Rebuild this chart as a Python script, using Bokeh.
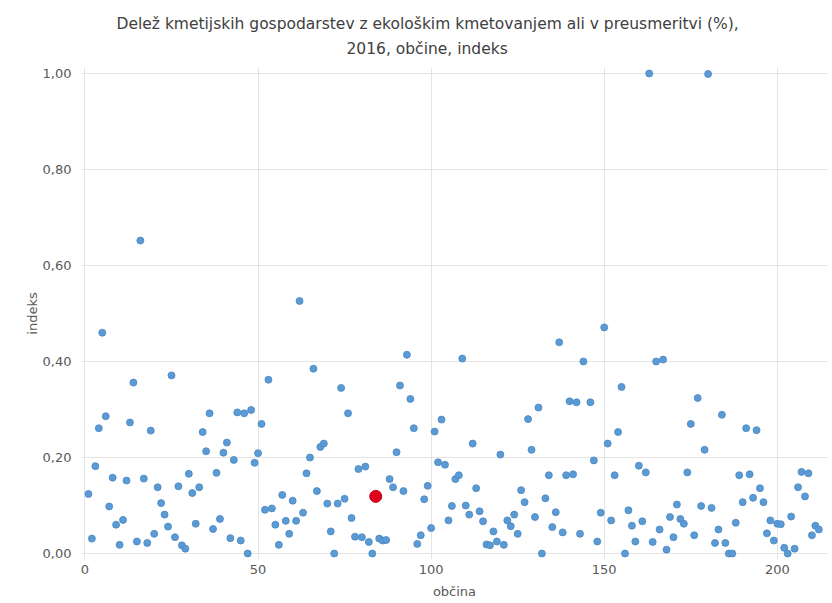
import numpy as np
from bokeh.plotting import figure
from bokeh.models import Range1d, FixedTicker, Title, CustomJSTickFormatter
from bokeh.embed import file_html
from bokeh.resources import INLINE

# ---- data (index per municipality) ----
indeks = [
    0.124, 0.031, 0.182, 0.261, 0.460, 0.286, 0.098, 0.158, 0.060, 0.018,   # 1-10
    0.070, 0.152, 0.273, 0.356, 0.025, 0.652, 0.156, 0.022, 0.256, 0.041,   # 11-20
    0.138, 0.105, 0.081, 0.056, 0.371, 0.034, 0.140, 0.017, 0.010, 0.166,   # 21-30
    0.126, 0.062, 0.138, 0.253, 0.213, 0.292, 0.051, 0.168, 0.072, 0.210,   # 31-40
    0.231, 0.032, 0.195, 0.294, 0.027, 0.292, 0.000, 0.299, 0.189, 0.209,   # 41-50
    0.270, 0.091, 0.362, 0.094, 0.060, 0.018, 0.122, 0.068, 0.041, 0.110,   # 51-60
    0.068, 0.526, 0.085, 0.167, 0.200, 0.385, 0.130, 0.222, 0.229, 0.104,   # 61-70
    0.046, 0.000, 0.104, 0.345, 0.114, 0.292, 0.074, 0.035, 0.176, 0.034,   # 71-80
    0.181, 0.024, 0.000, 0.119, 0.031, 0.027, 0.028, 0.155, 0.138, 0.211,   # 81-90
    0.350, 0.130, 0.414, 0.322, 0.261, 0.020, 0.038, 0.113, 0.141, 0.053,   # 91-100
    0.254, 0.190, 0.279, 0.185, 0.069, 0.099, 0.155, 0.163, 0.406, 0.100,   # 101-110
    0.081, 0.229, 0.136, 0.088, 0.067, 0.019, 0.017, 0.046, 0.025, 0.206,   # 111-120
    0.018, 0.069, 0.057, 0.081, 0.041, 0.132, 0.107, 0.280, 0.216, 0.076,   # 121-130
    0.304, 0.000, 0.115, 0.163, 0.055, 0.086, 0.440, 0.044, 0.163, 0.317,   # 131-140
    0.165, 0.315, 0.041, 0.400, np.nan, 0.315, 0.194, 0.025, 0.085, 0.471,  # 141-150
    0.229, 0.069, 0.163, 0.253, 0.347, 0.000, 0.090, 0.058, 0.025, 0.183,   # 151-160
    0.067, 0.169, 1.000, 0.024, 0.400, 0.050, 0.404, 0.008, 0.076, 0.034,   # 161-170
    0.102, 0.072, 0.062, 0.169, 0.270, 0.038, 0.324, 0.099, 0.216, 0.999,   # 171-180
    0.095, 0.022, 0.050, 0.289, 0.022, 0.000, 0.000, 0.064, 0.163, 0.107,   # 181-190
    0.261, 0.165, 0.116, 0.257, 0.136, 0.107, 0.042, 0.069, 0.027, 0.062,   # 191-200
    0.061, 0.012, 0.000, 0.077, 0.010, 0.138, 0.170, 0.119, 0.167, 0.038,   # 201-210
    0.058, 0.050,                                                           # 211-212
]
obcina = list(range(1, len(indeks) + 1))

izbrana_obcina = [84]
izbrana_indeks = [0.119]

x_ticks = [0, 50, 100, 150, 200]
y_ticks = [0.0, 0.2, 0.4, 0.6, 0.8, 1.0]

title_line1 = "Delež kmetijskih gospodarstev z ekološkim kmetovanjem ali v preusmeritvi (%),"
title_line2 = "2016, občine, indeks"
x_label = "občina"
y_label = "indeks"

FONT = "DejaVu Sans"
TXT = "#595959"

p = figure(width=830, height=601, output_backend="svg", toolbar_location=None,
           title=None,
           x_range=Range1d(-1, 214.5), y_range=Range1d(-0.0125, 1.0125),
           min_border_left=81, min_border_right=3, min_border_top=67,
           min_border_bottom=42)
p.outline_line_color = None
p.background_fill_color = "white"
p.border_fill_color = "white"

# axes
for ax in (p.xaxis[0], p.yaxis[0]):
    ax.axis_line_color = None
    ax.major_tick_line_color = None
    ax.minor_tick_line_color = None
    ax.major_tick_out = 0
    ax.major_tick_in = 0
    ax.minor_tick_out = 0
    ax.minor_tick_in = 0
    ax.major_label_text_font = FONT
    ax.major_label_text_font_size = "13px"
    ax.major_label_text_color = TXT
    ax.axis_label_text_font = FONT
    ax.axis_label_text_font_size = "13px"
    ax.axis_label_text_font_style = "normal"
    ax.axis_label_text_color = TXT

p.xaxis.ticker = FixedTicker(ticks=x_ticks)
p.yaxis.ticker = FixedTicker(ticks=y_ticks)
p.yaxis.formatter = CustomJSTickFormatter(code="return tick.toFixed(2).replace('.', ',');")
p.xaxis.axis_label = x_label
p.yaxis.axis_label = y_label
p.xaxis.major_label_standoff = 5
p.xaxis.axis_label_standoff = 7
p.yaxis.major_label_standoff = 10
p.yaxis.axis_label_standoff = 0

p.xgrid.ticker = FixedTicker(ticks=x_ticks)
p.ygrid.ticker = FixedTicker(ticks=y_ticks)
p.xgrid.grid_line_color = "#E4E4E4"
p.ygrid.grid_line_color = "#E4E4E4"

# titles (line 2 added first so it sits nearest the plot)
t2 = Title(text=title_line2, align="left", offset=265, standoff=20,
           text_font=FONT, text_font_size="15.5px", text_font_style="normal",
           text_color="#404040", text_line_height=0.75)
p.add_layout(t2, "above")
t1 = Title(text=title_line1, align="left", offset=35, standoff=-10,
           text_font=FONT, text_font_size="15.5px", text_font_style="normal",
           text_color="#404040")
p.add_layout(t1, "above")

# points
p.scatter(obcina, indeks, size=7, marker="circle",
          fill_color="#5B9BD5", line_color="#4A86C2", line_width=0.8)
p.scatter(izbrana_obcina, izbrana_indeks, size=12, marker="circle",
          fill_color="#E2001A", line_color="#B3000F", line_width=1)

open("out.html", "w").write(file_html(p, INLINE))
